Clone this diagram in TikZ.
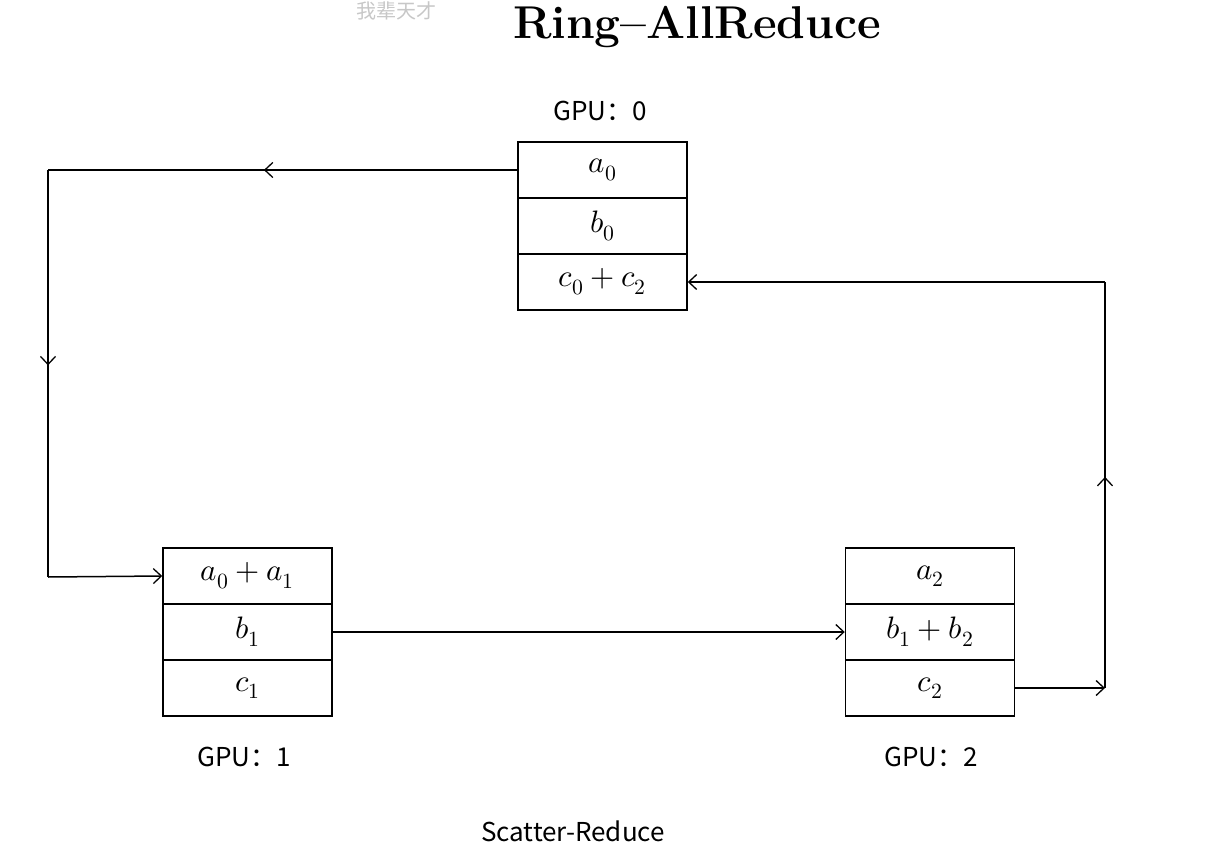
\documentclass[tikz,border=0pt]{standalone}
\usepackage{fontspec}
\usepackage{unicode-math}
\setmathfont{Latin Modern Math}
\newfontfamily\cjk{Noto Sans CJK SC}
\usetikzlibrary{arrows.meta,decorations.markings}
\begin{document}
\begin{tikzpicture}[x=1pt,y=-1pt,
  cell/.style={draw,line width=1.5pt,minimum width=169pt,minimum height=56pt,inner sep=0pt,font=\fontsize{31}{34}\selectfont},
  lbl/.style={font=\cjk\fontsize{26}{30}\selectfont},
  tip/.style={-{Straight Barb[length=8pt,width=15pt,line width=1.3pt]}},
  conn/.style={line width=1.5pt},
  midtip/.style={postaction={decorate},decoration={markings,mark=at position #1 with {\arrow{Straight Barb[length=8pt,width=15pt,line width=1.3pt]}}}}
]
\useasboundingbox (0,0) rectangle (1206,850);
% title and watermark
\node[font=\fontsize{46}{50}\selectfont\bfseries,inner sep=0pt] (title) at (697,27) {Ring–AllReduce};
\node[text=black!22,font=\cjk\fontsize{20}{22}\selectfont,inner sep=0pt] (wm) at (396,11) {我辈天才};
% GPU 0
\node[cell] (g0a) at (602.5,170) {$a_0$};
\node[cell] (g0b) at (602.5,226) {$b_0$};
\node[cell] (g0c) at (602.5,282) {$c_0+c_2$};
\node[lbl] (l0) at (600,111) {GPU：0};
% GPU 1
\node[cell] (g1a) at (247.5,576) {$a_0+a_1$};
\node[cell] (g1b) at (247.5,632) {$b_1$};
\node[cell] (g1c) at (247.5,688) {$c_1$};
\node[lbl] (l1) at (244,757) {GPU：1};
% GPU 2
\node[cell] (g2a) at (930,576) {$a_2$};
\node[cell] (g2b) at (930,632) {$b_1+b_2$};
\node[cell] (g2c) at (930,688) {$c_2$};
\node[lbl] (l2) at (931,757) {GPU：2};
\node[lbl] (cap) at (573,831) {Scatter-Reduce};
% corners
\coordinate (tl) at (48,170);
\coordinate (bl) at (48,577);
\coordinate (br) at (1105,688);
\coordinate (tr) at (1105,282);
% connectors
\draw[conn,midtip=0.54] (g0a.west) -- (tl);
\draw[conn,midtip=0.48] (tl) -- (bl);
\draw[conn,tip] (bl) -- (g1a.west);
\draw[conn,tip] (g1b.east) -- (g2b.west);
\draw[conn,tip] (g2c.east) -- (br);
\draw[conn,midtip=0.52] (br) -- (tr);
\draw[conn,tip] (tr) -- (g0c.east);
\end{tikzpicture}
\end{document}
